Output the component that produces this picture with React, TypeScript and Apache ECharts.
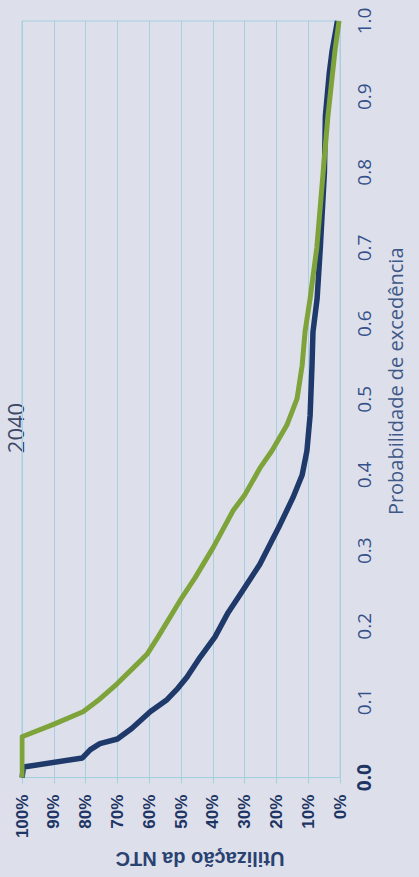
import React, { useEffect, useRef } from "react";
import * as echarts from "echarts";

// Exceedance curves of NTC utilisation for 2040.
// Probability of exceedance (0–1) against utilisation (%).
const chartTitle = "2040";
const probAxisName = "Probabilidade de excedência";
const utilAxisName = "Utilização da NTC";

const probNavy = [
  0, 0.014, 0.026, 0.037, 0.045, 0.051, 0.065, 0.087, 0.103, 0.118, 0.133,
  0.159, 0.186, 0.218, 0.242, 0.282, 0.31, 0.334, 0.37, 0.4, 0.432, 0.479,
  0.545, 0.589, 0.633, 0.7, 0.8, 0.874, 0.93, 0.96, 1.0,
];
const utilNavy = [
  100, 99.5, 81, 78.5, 75.5, 70, 65.5, 59.7, 54.4, 51, 48.1, 44, 39.3, 35.2,
  31.4, 25.2, 21.8, 18.9, 14.8, 11.9, 10.4, 9.4, 8.8, 8.5, 7.2, 6.2, 4.9, 4.6,
  3.4, 2.5, 0.8,
];

const probGreen = [
  0, 0.054, 0.07, 0.087, 0.104, 0.124, 0.15, 0.163, 0.186, 0.238, 0.264, 0.304,
  0.353, 0.374, 0.409, 0.432, 0.466, 0.501, 0.545, 0.589, 0.633, 0.7, 0.8,
  0.874, 0.96, 1.0,
];
const utilGreen = [
  100, 100, 90.3, 80.8, 75.5, 70.1, 63.8, 60.7, 57.2, 49.7, 45.6, 39.9, 33.6,
  29.9, 25.2, 21.4, 16.7, 13.5, 11.9, 11, 9.4, 7.3, 5.3, 3.8, 1.6, 0.3,
];

const gridBlue = "#a6cfe0";
const pageBg = "#dde0eb";

const zip = (xs: number[], ys: number[]) => xs.map((x, i) => [x, ys[i]]);

export default function App() {
  const ref = useRef<HTMLDivElement>(null);

  useEffect(() => {
    document.body.style.background = pageBg;
    const chart = echarts.init(ref.current!, null, { renderer: "svg" });
    chart.setOption({
      animation: false,
      backgroundColor: "transparent",
      graphic: [
        {
          type: "text",
          x: 449,
          y: 4,
          style: {
            text: chartTitle,
            fontFamily: "Open Sans",
            fontSize: 22,
            fill: "#3b4866",
            align: "center",
            verticalAlign: "top",
          },
        },
      ],
      grid: {
        left: 96,
        right: 21,
        top: 22,
        bottom: 79,
        show: true,
        borderColor: gridBlue,
        borderWidth: 1,
      },
      xAxis: {
        type: "value",
        min: 0,
        max: 1,
        interval: 0.1,
        name: probAxisName,
        nameLocation: "middle",
        nameGap: 45,
        nameTextStyle: {
          fontFamily: "Open Sans",
          fontSize: 20,
          color: "#3f5888",
          padding: [0, 0, 0, 36],
        },
        axisLine: { show: true, lineStyle: { color: gridBlue } },
        axisTick: { show: false },
        splitLine: { show: false },
        axisLabel: {
          margin: 14,
          fontFamily: "Open Sans",
          fontSize: 19,
          color: "#34508a",
          formatter: (v: number) => (v === 0 ? "{z|0.0}" : v.toFixed(1)),
          rich: {
            z: {
              fontFamily: "Open Sans",
              fontSize: 19,
              fontWeight: "bold",
              color: "#1e3563",
            },
          },
        },
      },
      yAxis: {
        type: "value",
        min: 0,
        max: 100,
        interval: 10,
        name: utilAxisName,
        nameLocation: "middle",
        nameGap: 60,
        nameTextStyle: {
          fontFamily: "Liberation Sans",
          fontSize: 20,
          fontWeight: "bold",
          color: "#2a4270",
          padding: [0, 38, 0, 0],
        },
        axisLine: { show: true, lineStyle: { color: gridBlue } },
        axisTick: { show: true, length: 6, lineStyle: { color: gridBlue } },
        splitLine: { show: true, lineStyle: { color: gridBlue, width: 1 } },
        axisLabel: {
          margin: 17,
          formatter: "{value}%",
          fontFamily: "Liberation Sans",
          fontWeight: "bold",
          fontSize: 17,
          color: "#1e3563",
        },
      },
      series: [
        {
          name: "Série 1",
          type: "line",
          data: zip(probNavy, utilNavy),
          showSymbol: false,
          lineStyle: { color: "#1f3a6a", width: 5.5, join: "round" },
          z: 2,
        },
        {
          name: "Série 2",
          type: "line",
          data: zip(probGreen, utilGreen),
          showSymbol: false,
          lineStyle: { color: "#7ea33a", width: 5, join: "round" },
          z: 3,
        },
      ],
    });
    return () => chart.dispose();
  }, []);

  return (
    <div
      style={{
        position: "fixed",
        left: 0,
        top: 0,
        width: 419,
        height: 877,
        overflow: "hidden",
        background: pageBg,
      }}
    >
      <div
        ref={ref}
        style={{
          position: "absolute",
          left: 0,
          top: 0,
          width: 877,
          height: 419,
          transformOrigin: "0 0",
          transform: "translate(0px, 877px) rotate(-90deg)",
        }}
      />
    </div>
  );
}
